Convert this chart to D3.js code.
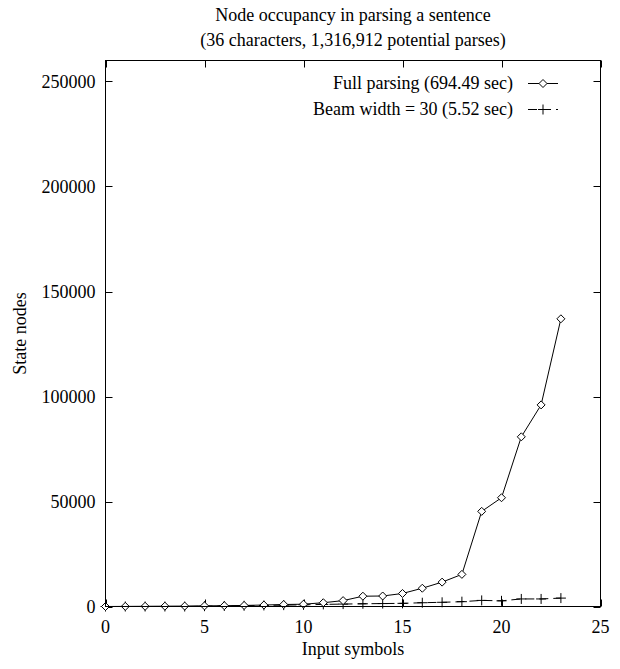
<!DOCTYPE html>
<html>
<head>
<meta charset="utf-8">
<script src="https://cdn.jsdelivr.net/npm/d3@7"></script>
<style>
  body { margin: 0; background: #fff; }
  svg { font-family: "Liberation Serif", "DejaVu Serif", serif; }
  text { fill: #000; }
</style>
</head>
<body>
<svg width="620" height="669"></svg>
<script>
// input symbol positions 0..23
var symbols = [0, 1, 2, 3, 4, 5, 6, 7, 8, 9, 10, 11, 12, 13, 14, 15, 16, 17, 18, 19, 20, 21, 22, 23];
// state nodes, full parsing
var fullNodes = [0, 50, 100, 150, 200, 300, 400, 500, 700, 950, 1100, 1800, 2800, 4900, 5000, 6200,
                 8700, 11600, 15300, 45300, 51800, 80800, 96000, 137000];
// state nodes, beam width = 30
var beamNodes = [0, 0, 0, 0, 0, 150, 250, 350, 500, 650, 800, 1000, 1150, 1300, 1400, 1500,
                 1800, 2000, 2300, 2900, 2700, 3600, 3600, 4000];
var xTicks = [0, 5, 10, 15, 20, 25];
var yTicks = [0, 50000, 100000, 150000, 200000, 250000];
var seriesNames = ["Full parsing (694.49 sec)", "Beam width = 30 (5.52 sec)"];

function main() {
    var svg = d3.select("svg"),
        left = 105.5, right = 600.5, top = 60.5, bottom = 606.5,
        fs = "18px";

    var x = d3.scaleLinear().domain([0, 25]).range([left, right]);
    var y = d3.scaleLinear().domain([0, 260000]).range([bottom, top]);

    // title
    var title = svg.append("text")
        .attr("text-anchor", "middle")
        .style("font-size", fs);
    title.append("tspan").attr("x", 353).attr("y", 21).text("Node occupancy in parsing a sentence");
    title.append("tspan").attr("x", 353).attr("y", 46).text("(36 characters, 1,316,912 potential parses)");

    // ticks go inward, mirrored on the opposite side (gnuplot style)
    var tick = 7;
    var ticksG = svg.append("g").attr("stroke", "#000").attr("stroke-width", 1);
    xTicks.forEach(function(t) {
        var px = Math.round(x(t)) + 0.5;
        ticksG.append("line").attr("x1", px).attr("x2", px).attr("y1", bottom).attr("y2", bottom - tick);
        ticksG.append("line").attr("x1", px).attr("x2", px).attr("y1", top).attr("y2", top + tick);
    });
    yTicks.forEach(function(t) {
        var py = Math.round(y(t)) + 0.5;
        ticksG.append("line").attr("x1", left).attr("x2", left + tick).attr("y1", py).attr("y2", py);
        ticksG.append("line").attr("x1", right).attr("x2", right - tick).attr("y1", py).attr("y2", py);
    });

    svg.selectAll(".xlab").data(xTicks).enter().append("text")
        .attr("class", "xlab")
        .attr("x", function(d) { return x(d); })
        .attr("y", bottom + 26)
        .attr("text-anchor", "middle")
        .style("font-size", fs)
        .text(function(d) { return d; });

    svg.selectAll(".ylab").data(yTicks).enter().append("text")
        .attr("class", "ylab")
        .attr("x", left - 10)
        .attr("y", function(d) { return y(d) + 6; })
        .attr("text-anchor", "end")
        .style("font-size", fs)
        .text(function(d) { return d; });

    // axis titles
    svg.append("text")
        .attr("x", 353).attr("y", 655)
        .attr("text-anchor", "middle")
        .style("font-size", fs)
        .text("Input symbols");
    svg.append("text")
        .attr("transform", "translate(26," + ((top + bottom) / 2) + ") rotate(-90)")
        .attr("text-anchor", "middle")
        .style("font-size", fs)
        .text("State nodes");

    var line = d3.line()
        .x(function(d) { return x(d[0]); })
        .y(function(d) { return y(d[1]); });

    var fullData = symbols.map(function(s, i) { return [s, fullNodes[i]]; });
    var beamData = symbols.map(function(s, i) { return [s, beamNodes[i]]; });

    var plot = svg.append("g");

    plot.append("path")
        .datum(beamData)
        .attr("d", line)
        .attr("fill", "none")
        .attr("stroke", "#000")
        .attr("stroke-dasharray", "9,5");

    plot.append("path")
        .datum(fullData)
        .attr("d", line)
        .attr("fill", "none")
        .attr("stroke", "#000");

    function diamond(g, cx, cy) {
        var r = 4;
        g.append("path")
            .attr("d", "M" + cx + "," + (cy - r) + "L" + (cx + r) + "," + cy + "L" + cx + "," + (cy + r) + "L" + (cx - r) + "," + cy + "Z")
            .attr("fill", "#fff")
            .attr("stroke", "#000");
    }
    function plus(g, cx, cy) {
        var r = 5;
        g.append("path")
            .attr("d", "M" + (cx - r) + "," + cy + "H" + (cx + r) + "M" + cx + "," + (cy - r) + "V" + (cy + r))
            .attr("stroke", "#000");
    }

    beamData.forEach(function(d) { plus(plot, x(d[0]), y(d[1])); });
    fullData.forEach(function(d) { diamond(plot, x(d[0]), y(d[1])); });

    // frame
    svg.append("rect")
        .attr("x", left).attr("y", top)
        .attr("width", right - left).attr("height", bottom - top)
        .attr("fill", "none")
        .attr("stroke", "#000");

    // legend
    var legend = svg.append("g");
    seriesNames.forEach(function(name, i) {
        var ly = 83 + i * 26;
        legend.append("text")
            .attr("x", 513).attr("y", ly + 6)
            .attr("text-anchor", "end")
            .style("font-size", fs)
            .text(name);
        var ln = legend.append("line")
            .attr("x1", 528).attr("x2", 558)
            .attr("y1", ly + 0.5).attr("y2", ly + 0.5)
            .attr("stroke", "#000");
        if (i == 1) {
            ln.attr("stroke-dasharray", "9,5");
            plus(legend, 543, ly + 0.5);
        } else {
            diamond(legend, 543, ly + 0.5);
        }
    });
}
main();
</script>
</body>
</html>
